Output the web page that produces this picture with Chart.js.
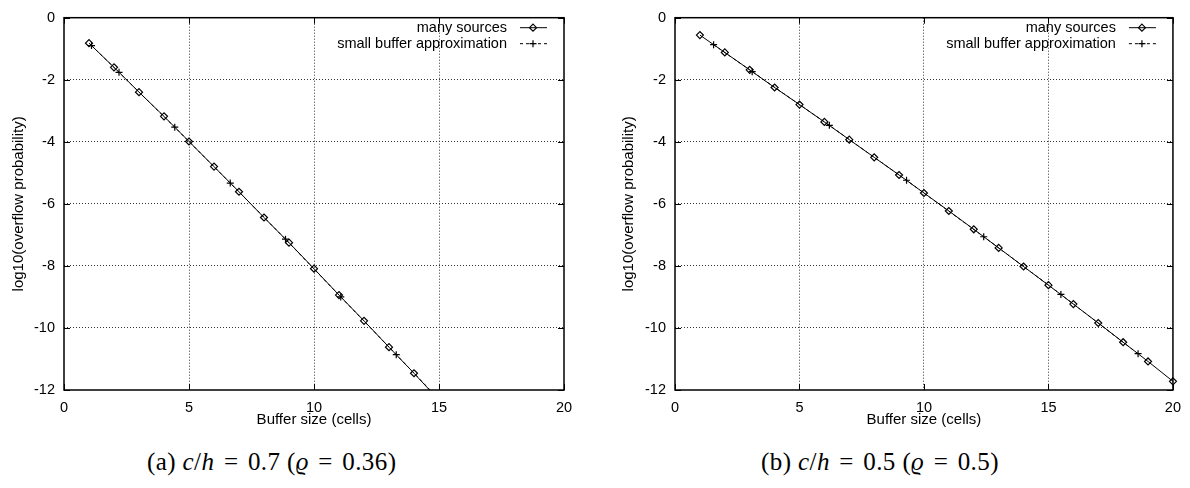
<!DOCTYPE html>
<html><head><meta charset="utf-8">
<script src="https://cdn.jsdelivr.net/npm/chart.js@4/dist/chart.umd.min.js"></script>
<style>
html,body{margin:0;padding:0;background:#fff;width:1190px;height:488px;overflow:hidden;}
.wrap{position:absolute;top:0;height:430px;}
.cap{position:absolute;font-family:"Liberation Serif","DejaVu Serif",serif;font-size:25px;color:#000;white-space:nowrap;top:447px;line-height:30px;letter-spacing:0.4px;}
.cap .eq{padding:0 0.38em;}
</style></head><body>
<div class="wrap" style="left:0;width:590px"><canvas id="c1" width="590" height="430"></canvas></div>
<div class="wrap" style="left:610px;width:580px"><canvas id="c2" width="580" height="430"></canvas></div>
<div class="cap" style="left:147px">(a) <i>c</i>/<i>h</i><span class="eq">=</span>0.7 (<i>ϱ</i><span class="eq">=</span>0.36)</div>
<div class="cap" style="left:761px">(b) <i>c</i>/<i>h</i><span class="eq">=</span>0.5 (<i>ϱ</i><span class="eq">=</span>0.5)</div>
<script>
// ---- data ----
const seriesLabels = ['many sources', 'small buffer approximation'];
const xTickValues = [0, 5, 10, 15, 20];
const yTickValues = [0, -2, -4, -6, -8, -10, -12];
const xAxisTitle = 'Buffer size (cells)';
const yAxisTitle = 'log10(overflow probability)';

// (a) c/h = 0.7
const manyX_a = [1, 2, 3, 4, 5, 6, 7, 8, 9, 10, 11, 12, 13, 14, 15];
const manyY_a = [-0.82, -1.60, -2.40, -3.18, -3.99, -4.80, -5.61, -6.44, -7.25, -8.09, -8.94, -9.77, -10.62, -11.46, -12.33];
const smallX_a = [1.1, 2.2, 4.43, 6.65, 8.86, 11.07, 13.29, 15.5];
const smallY_a = [-0.90, -1.76, -3.53, -5.33, -7.14, -9.00, -10.86, -12.72];

// (b) c/h = 0.5
const manyX_b = [1, 2, 3, 4, 5, 6, 7, 8, 9, 10, 11, 12, 13, 14, 15, 16, 17, 18, 19, 20];
const manyY_b = [-0.56, -1.12, -1.68, -2.25, -2.80, -3.36, -3.93, -4.50, -5.07, -5.65, -6.23, -6.82, -7.42, -8.02, -8.62, -9.23, -9.84, -10.46, -11.08, -11.72];
const smallX_b = [1.55, 3.1, 6.2, 9.3, 12.4, 15.5, 18.6];
const smallY_b = [-0.87, -1.74, -3.47, -5.24, -7.06, -8.92, -10.83];

// ---- helpers ----
const FONT = '"Liberation Sans", Arial, Helvetica, sans-serif';
const toPts = (xs, ys) => xs.map((x, i) => ({x: x, y: ys[i]}));

function drawMarker(ctx, style, x, y) {
  ctx.save();
  ctx.setLineDash([]);
  ctx.lineWidth = 1.2;
  ctx.strokeStyle = '#000';
  ctx.beginPath();
  const r = 3.5;
  if (style === 'rectRot') {
    ctx.moveTo(x, y - r); ctx.lineTo(x + r, y); ctx.lineTo(x, y + r); ctx.lineTo(x - r, y); ctx.closePath();
  } else {
    ctx.moveTo(x - r, y); ctx.lineTo(x + r, y); ctx.moveTo(x, y - r); ctx.lineTo(x, y + r);
  }
  ctx.stroke();
  ctx.restore();
}

const framePlugin = {
  id: 'gpFrame',
  afterDraw(chart) {
    const {ctx, chartArea: a, scales} = chart;
    ctx.save();
    ctx.strokeStyle = '#000';
    ctx.setLineDash([]);
    ctx.lineWidth = 1;
    ctx.beginPath();
    xTickValues.forEach(v => {
      const px = Math.round(scales.x.getPixelForValue(v)) + 0.5;
      ctx.moveTo(px, a.bottom); ctx.lineTo(px, a.bottom - 6);
      ctx.moveTo(px, a.top); ctx.lineTo(px, a.top + 6);
    });
    yTickValues.forEach(v => {
      const py = Math.round(scales.y.getPixelForValue(v)) + 0.5;
      ctx.moveTo(a.left, py); ctx.lineTo(a.left + 6, py);
      ctx.moveTo(a.right, py); ctx.lineTo(a.right - 6, py);
    });
    ctx.stroke();
    ctx.lineWidth = 1.5;
    ctx.strokeRect(a.left, a.top, a.right - a.left, a.bottom - a.top);
    // legend (gnuplot style: text, then sample)
    ctx.font = '14.5px ' + FONT;
    ctx.fillStyle = '#000';
    ctx.textAlign = 'right';
    ctx.textBaseline = 'middle';
    chart.data.datasets.forEach((ds, i) => {
      const y = a.top + 10 + i * 16;
      ctx.fillText(ds.label, a.right - 57, y);
      ctx.beginPath();
      ctx.lineWidth = 1;
      ctx.setLineDash(ds.borderDash || []);
      ctx.moveTo(a.right - 44, y); ctx.lineTo(a.right - 17, y);
      ctx.stroke();
      ctx.setLineDash([]);
      drawMarker(ctx, ds.pointStyle, a.right - 31, y);
    });
    ctx.restore();
  }
};

function makeChart(id, yAxisWidth, rightPad, manyX, manyY, smallX, smallY) {
  const gridColor = (edgeVals) => (c) => (c.tick && edgeVals.includes(c.tick.value)) ? 'rgba(0,0,0,0)' : '#333';
  return new Chart(document.getElementById(id), {
    type: 'scatter',
    data: {
      datasets: [
        {
          label: seriesLabels[0],
          data: toPts(manyX, manyY),
          showLine: true,
          borderColor: '#000',
          borderWidth: 1,
          backgroundColor: 'rgba(0,0,0,0)',
          pointStyle: 'rectRot',
          pointRadius: 3.5,
          pointBorderWidth: 1.2,
          pointBorderColor: '#000',
          pointBackgroundColor: 'rgba(0,0,0,0)',
          clip: {left: 0, top: 0, right: 6, bottom: 0}
        },
        {
          label: seriesLabels[1],
          data: toPts(smallX, smallY),
          showLine: true,
          borderColor: '#000',
          borderWidth: 1,
          borderDash: [3, 3],
          backgroundColor: 'rgba(0,0,0,0)',
          pointStyle: 'cross',
          pointRadius: 3.5,
          pointBorderWidth: 1.2,
          pointBorderColor: '#000',
          clip: {left: 0, top: 0, right: 6, bottom: 0}
        }
      ]
    },
    options: {
      responsive: false,
      animation: false,
      events: [],
      layout: {padding: {top: 7, right: rightPad, left: 0, bottom: 0}},
      plugins: {legend: {display: false}, tooltip: {enabled: false}},
      scales: {
        x: {
          type: 'linear', min: 0, max: 20,
          afterBuildTicks: s => { s.ticks = xTickValues.map(v => ({value: v})); },
          afterFit: s => { s.height = 40; },
          ticks: {color: '#000', font: {family: FONT, size: 14.5}, padding: 9, maxRotation: 0},
          grid: {drawTicks: false, color: gridColor([0, 20]), lineWidth: 1},
          border: {display: false, dash: [1, 2]},
          title: {display: true, text: xAxisTitle, color: '#000', font: {family: FONT, size: 15}, padding: {top: 0, bottom: 1}}
        },
        y: {
          type: 'linear', min: -12, max: 0,
          afterBuildTicks: s => { s.ticks = yTickValues.slice().reverse().map(v => ({value: v})); },
          afterFit: s => { s.width = yAxisWidth; },
          ticks: {color: '#000', font: {family: FONT, size: 14.5}, padding: 9},
          grid: {drawTicks: false, color: gridColor([0, -12]), lineWidth: 1},
          border: {display: false, dash: [1, 2]},
          title: {display: true, text: yAxisTitle, color: '#000', font: {family: FONT, size: 15}, padding: {top: 10, bottom: 0}}
        }
      }
    },
    plugins: [framePlugin]
  });
}

makeChart('c1', 64, 26, manyX_a, manyY_a, smallX_a, smallY_a);
makeChart('c2', 65, 16, manyX_b, manyY_b, smallX_b, smallY_b);
</script>
</body></html>
